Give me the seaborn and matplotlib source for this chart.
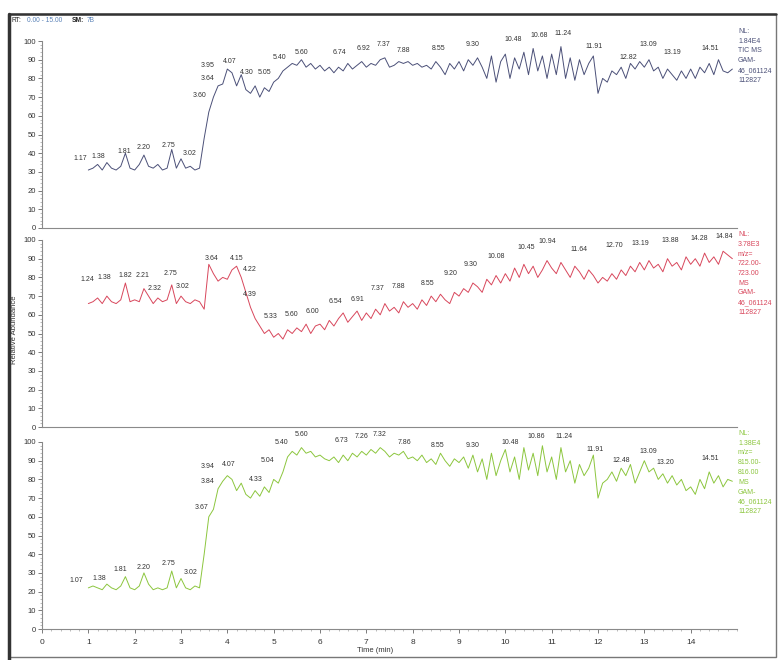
import numpy as np
import pandas as pd
import seaborn as sns
import matplotlib.pyplot as plt
from matplotlib.ticker import MultipleLocator, FixedLocator
from matplotlib.patches import Rectangle
from matplotlib.lines import Line2D

# sampling times (min), one reading every 0.1 min
t_start, t_step, n_pts = 1.0, 0.1, 140
times = np.round(t_start + t_step * np.arange(n_pts), 2)

# TIC trace (top)
tic = [31, 32, 34, 31, 35, 32, 31, 33, 40, 32,
       31, 34, 39, 33, 32, 34, 31, 32, 42, 32,
       37, 32, 33, 31, 32, 48, 62, 70, 76, 77,
       85, 83, 76, 82, 74, 72, 76, 70, 75, 73,
       78, 80, 84, 86, 88, 87, 90, 86, 88, 85,
       87, 84, 86, 83, 86, 84, 88, 85, 87, 89,
       86, 88, 87, 90, 91, 86, 87, 89, 88, 89,
       87, 88, 86, 87, 85, 89, 86, 82, 88, 85,
       89, 84, 90, 87, 91, 86, 80, 92, 78, 89,
       93, 80, 91, 85, 94, 82, 96, 84, 92, 80,
       93, 82, 97, 80, 91, 79, 90, 82, 88, 92,
       72, 80, 78, 84, 82, 86, 80, 88, 85, 89,
       86, 90, 84, 86, 80, 85, 82, 79, 84, 80,
       85, 80, 86, 83, 88, 82, 90, 84, 83, 85]

# m/z 722-723 trace (middle)
mz722 = [66, 67, 69, 66, 70, 67, 66, 68, 77, 67,
         68, 67, 74, 70, 66, 69, 67, 68, 76, 66,
         70, 67, 66, 68, 67, 63, 87, 82, 78, 80,
         79, 84, 86, 80, 72, 64, 58, 54, 50, 52,
         48, 50, 47, 52, 50, 53, 51, 55, 50, 54,
         55, 52, 57, 54, 58, 61, 56, 59, 62, 57,
         61, 58, 63, 60, 66, 62, 64, 61, 67, 64,
         66, 63, 68, 65, 70, 67, 71, 68, 66, 72,
         70, 74, 72, 77, 75, 72, 79, 76, 81, 77,
         82, 78, 85, 80, 87, 82, 86, 80, 84, 89,
         85, 82, 88, 84, 80, 86, 83, 79, 84, 81,
         77, 80, 78, 82, 79, 84, 81, 86, 83, 88,
         84, 89, 85, 87, 83, 90, 86, 88, 84, 91,
         87, 90, 86, 93, 88, 91, 87, 94, 92, 90]

# m/z 815-816 trace (bottom)
mz815 = [22, 23, 22, 21, 24, 22, 21, 23, 28, 22,
         21, 23, 30, 24, 21, 22, 21, 22, 31, 22,
         27, 22, 21, 23, 22, 40, 60, 64, 75, 79,
         82, 80, 74, 78, 72, 70, 74, 71, 76, 73,
         80, 78, 84, 92, 95, 93, 97, 94, 95, 92,
         93, 91, 90, 92, 89, 93, 90, 94, 92, 95,
         93, 96, 94, 97, 95, 92, 94, 93, 95, 91,
         92, 90, 93, 89, 91, 88, 94, 90, 87, 91,
         89, 92, 86, 93, 84, 91, 80, 94, 82, 90,
         96, 84, 92, 80, 97, 85, 94, 82, 98, 84,
         92, 80, 97, 84, 90, 78, 88, 82, 86, 93,
         70, 78, 80, 84, 79, 86, 82, 88, 78, 84,
         90, 84, 86, 80, 83, 78, 82, 77, 80, 74,
         76, 72, 80, 75, 84, 78, 82, 76, 80, 79]

# peak labels: text, label position (time, abundance)
tic_lab = ["1.17", "1.38", "1.81", "2.20", "2.75", "3.02", "3.60", "3.64", "3.95", "4.07",
           "4.30", "5.05", "5.40", "5.60", "6.74", "6.92", "7.37", "7.88", "8.55", "9.30",
           "10.48", "10.68", "11.24", "11.91", "12.82", "13.09", "13.19", "14.51"]
tic_lab_t = [0.82, 1.21, 1.77, 2.20, 2.72, 3.19, 3.41, 3.58, 3.58, 4.06,
             4.42, 4.81, 5.13, 5.61, 6.43, 6.95, 7.38, 7.81, 8.56, 9.30,
             10.16, 10.74, 11.24, 11.91, 12.66, 13.09, 13.61, 14.43]
tic_lab_v = [37, 38, 41, 43, 44, 40, 71, 80, 87, 89,
             83, 83, 91, 94, 94, 96, 98, 95, 96, 98,
             101, 103, 104, 97, 91, 98, 94, 96]

mz722_lab = ["1.24", "1.38", "1.82", "2.21", "2.32", "2.75", "3.02", "3.64", "4.15", "4.22",
             "4.39", "5.33", "5.60", "6.00", "6.54", "6.91", "7.37", "7.88", "8.55", "9.20",
             "9.30", "10.08", "10.45", "10.94", "11.64", "12.70", "13.19", "13.88", "14.28", "14.84"]
mz722_lab_t = [0.97, 1.34, 1.79, 2.18, 2.42, 2.78, 3.04, 3.65, 4.20, 4.49,
               4.49, 4.94, 5.39, 5.83, 6.34, 6.80, 7.25, 7.70, 8.33, 8.82,
               9.25, 9.81, 10.44, 10.91, 11.58, 12.36, 12.92, 13.57, 14.19, 14.73]
mz722_lab_v = [79, 80, 81, 81, 74, 82, 75, 90, 90, 84,
               71, 59, 60, 62, 67, 68, 74, 75, 77, 82,
               87, 91, 96, 99, 95, 97, 98, 100, 101, 102]

mz815_lab = ["1.07", "1.38", "1.81", "2.20", "2.75", "3.02", "3.67", "3.84", "3.94", "4.07",
             "4.33", "5.04", "5.40", "5.60", "6.73", "7.26", "7.32", "7.86", "8.55", "9.30",
             "10.48", "10.86", "11.24", "11.91", "12.48", "13.09", "13.20", "14.51"]
mz815_lab_t = [0.73, 1.23, 1.68, 2.20, 2.72, 3.21, 3.45, 3.58, 3.58, 4.03,
               4.62, 4.87, 5.16, 5.60, 6.47, 6.90, 7.29, 7.83, 8.54, 9.30,
               10.10, 10.66, 11.26, 11.93, 12.50, 13.09, 13.46, 14.43]
mz815_lab_v = [26, 27, 32, 33, 35, 30, 65, 79, 87, 88,
               80, 90, 100, 104, 101, 103, 104, 100, 98, 98,
               100, 103, 103, 96, 90, 95, 89, 91]

x_ticks = list(range(0, 15))

info_tic = "NL:\n1.84E4\nTIC MS\nGAM-\n46_061124\n112827"
info_722 = "NL:\n3.78E3\nm/z=\n722.00-\n723.00\nMS\nGAM-\n46_061124\n112827"
info_815 = "NL:\n1.38E4\nm/z=\n815.00-\n816.00\nMS\nGAM-\n46_061124\n112827"

sns.set_theme(style="ticks")
plt.rcParams['font.family'] = ['Liberation Sans', 'DejaVu Sans']

W, H = 778, 660
fig = plt.figure(figsize=(W / 100, H / 100), dpi=100)

panels = [
    (tic, tic_lab, tic_lab_t, tic_lab_v, info_tic, "#4b5078", 228, 32),
    (mz722, mz722_lab, mz722_lab_t, mz722_lab_v, info_722, "#d8475c", 427, 235),
    (mz815, mz815_lab, mz815_lab_t, mz815_lab_v, info_815, "#8cc63e", 629, 434),
]

ax_left, ax_right = 42, 737
for i, (vals, labs, lt, lv, info, col, y0px, info_top) in enumerate(panels):
    ax = fig.add_axes([ax_left / W, 1 - y0px / H, (ax_right - ax_left) / W, 187 / H])
    df = pd.DataFrame({"Time": times, "Abundance": vals})
    sns.lineplot(data=df, x="Time", y="Abundance", ax=ax, color=col, lw=0.7)
    ax.set_xlim(0, 15)
    ax.set_ylim(0, 100)
    ax.set_xlabel("")
    ax.set_ylabel("")
    for s in ["top", "right"]:
        ax.spines[s].set_visible(False)
    for s in ["left", "bottom"]:
        ax.spines[s].set_color("#8a8a8a")
        ax.spines[s].set_linewidth(0.8)
    ax.yaxis.set_major_locator(MultipleLocator(10))
    ax.yaxis.set_minor_locator(MultipleLocator(2))
    ax.tick_params(axis="y", which="major", labelsize=5.5, length=3, width=0.6,
                   color="#666666", pad=1.5, labelcolor="#333333")
    ax.tick_params(axis="y", which="minor", length=1.5, width=0.4, color="#888888")
    if i < 2:
        ax.set_xticks([])
    else:
        ax.xaxis.set_major_locator(FixedLocator(x_ticks))
        ax.xaxis.set_minor_locator(MultipleLocator(0.2))
        ax.tick_params(axis="x", which="major", labelsize=6, length=3, width=0.6,
                       color="#666666", pad=4, labelcolor="#333333")
        ax.tick_params(axis="x", which="minor", length=1.5, width=0.4, color="#888888")
    for txt, x, y in zip(labs, lt, lv):
        ax.text(x, y, txt, ha="center", va="center", fontsize=5, color="#333333",
                clip_on=False)
    fig.text(738 / W, 1 - (info_top - 4) / H, info, ha="left", va="top", fontsize=5,
             color=col, linespacing=1.55)

# header and axis titles
hy = 1 - 21 / H
fig.text(12 / W, hy, "RT:", fontsize=4.8, color="#222222", va="center")
fig.text(27 / W, hy, "0.00 - 15.00", fontsize=4.8, color="#5a82b8", va="center")
fig.text(72 / W, hy, "SM:", fontsize=4.8, color="#222222", va="center", weight="bold")
fig.text(87 / W, hy, "7B", fontsize=4.8, color="#5a82b8", va="center")
fig.text(15 / W, 1 - 330 / H, "Relative Abundance", rotation=90, ha="center",
         va="center", fontsize=5.5, color="#333333")
fig.text(375 / W, 1 - 650 / H, "Time (min)", ha="center", va="center",
         fontsize=5.5, color="#333333")

# outer frame
fig.patches.append(Rectangle((9 / W, 3 / H), 767 / W, 643 / H, transform=fig.transFigure,
                             fill=False, edgecolor="#777777", lw=1.0))
fig.lines.append(Line2D([9 / W, 9 / W], [0, 1 - 14 / H], transform=fig.transFigure,
                        color="#333333", lw=2.5))
fig.lines.append(Line2D([9 / W, 776 / W], [1 - 14 / H, 1 - 14 / H],
                        transform=fig.transFigure, color="#333333", lw=1.8))

plt.savefig("out.png", dpi=100)
